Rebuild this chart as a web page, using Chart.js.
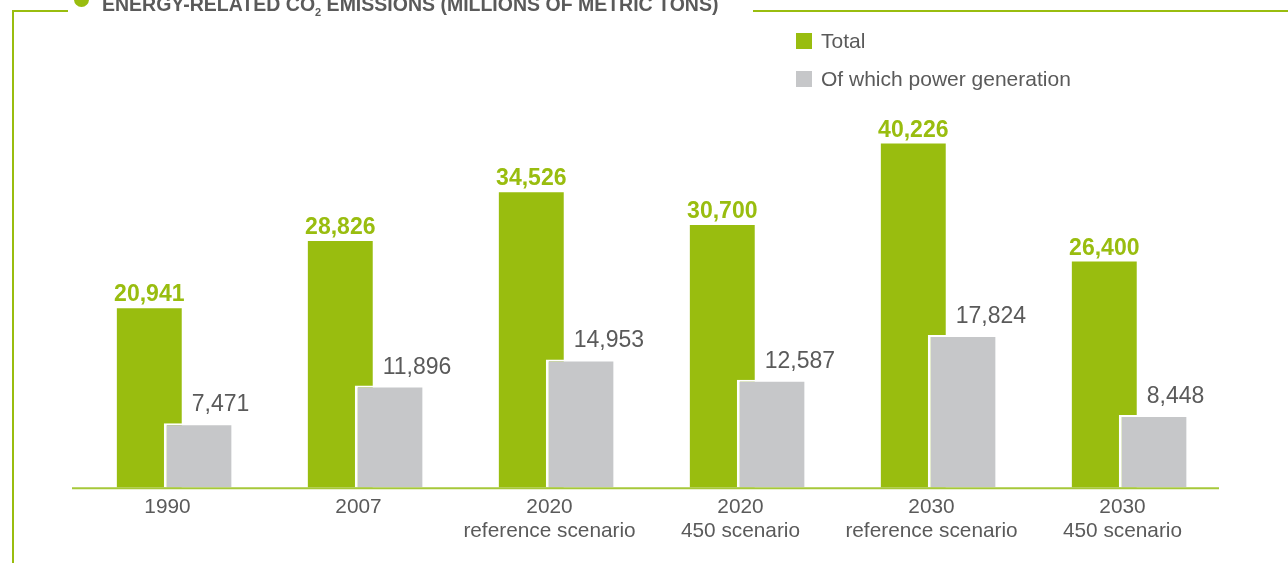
<!DOCTYPE html>
<html>
<head>
<meta charset="utf-8">
<title>Energy-related CO2 emissions</title>
<script src="https://cdn.jsdelivr.net/npm/chart.js@4/dist/chart.umd.min.js"></script>
<style>
    html, body { margin: 0; padding: 0; background: #fff; overflow: hidden; }
    #wrap { position: relative; width: 1288px; height: 563px; font-family: "Liberation Sans", Arial, sans-serif; }
    #wrap canvas { position: absolute; left: 0; top: 0; }
    .frame { position: absolute; background: #99bd0f; }
    .dot { position: absolute; left: 74px; top: -8px; width: 15px; height: 15px; border-radius: 50%; background: #99bd0f; }
    .title { position: absolute; left: 102px; top: -5px; font-size: 19.5px; line-height: 19.5px; font-weight: bold; color: #5a5a5a; white-space: nowrap; }
    .title sub { font-size: 11px; vertical-align: -5px; line-height: 0; }
    .legend-item { position: absolute; left: 796px; font-size: 21px; line-height: 21px; color: #5a5a5a; white-space: nowrap; }
    .legend-item span { display: inline-block; width: 16px; height: 16px; margin-right: 9px; vertical-align: -1px; }
</style>
</head>
<body>
<div id="wrap">
    <canvas id="co2Chart" width="1288" height="563"></canvas>
    <div class="frame" style="left:12px; top:10px; width:2px; height:553px;"></div>
    <div class="frame" style="left:12px; top:10px; width:56px; height:2px;"></div>
    <div class="frame" style="left:753px; top:10px; width:535px; height:2px;"></div>
    <div class="dot"></div>
    <div class="title">ENERGY-RELATED CO<sub>2</sub> EMISSIONS (MILLIONS OF METRIC TONS)</div>
    <div class="legend-item" style="top:30px;"><span style="background:#99bd0f;"></span>Total</div>
    <div class="legend-item" style="top:68px;"><span style="background:#c6c7c9;"></span>Of which power generation</div>
</div>

<script>
// Chart data
const categories = [
    ['1990'],
    ['2007'],
    ['2020', 'reference scenario'],
    ['2020', '450 scenario'],
    ['2030', 'reference scenario'],
    ['2030', '450 scenario']
];
const totalEmissions = [20941, 28826, 34526, 30700, 40226, 26400];
const powerGeneration = [7471, 11896, 14953, 12587, 17824, 8448];

const GREEN = '#99bd0f';
const GREY = '#c6c7c9';
const TEXT = '#5a5a5a';

// Draw datasets in index order so the grey bar overlaps the green one
const drawOrder = {
    id: 'drawOrder',
    beforeDatasetDraw: function(chart) {
        return !!chart.$manualDraw;
    },
    afterDatasetsDraw: function(chart) {
        chart.$manualDraw = true;
        chart.data.datasets.forEach(function(ds, i) {
            chart.getDatasetMeta(i).controller.draw();
        });
        chart.$manualDraw = false;
    }
};

// Baseline along the zero line
const baseline = {
    id: 'baseline',
    beforeDatasetsDraw: function(chart) {
        const ctx = chart.ctx;
        const y = chart.scales.y.getPixelForValue(0) + 1;
        ctx.save();
        ctx.strokeStyle = '#a6c83a';
        ctx.lineWidth = 2;
        ctx.beginPath();
        ctx.moveTo(chart.chartArea.left - 6, y);
        ctx.lineTo(chart.chartArea.right - 5, y);
        ctx.stroke();
        ctx.restore();
    }
};

// Value labels above the bars
const valueLabels = {
    id: 'valueLabels',
    afterDatasetsDraw: function(chart) {
        const ctx = chart.ctx;
        ctx.save();
        ctx.textBaseline = 'alphabetic';
        chart.getDatasetMeta(0).data.forEach(function(bar, i) {
            ctx.font = 'bold 23px "Liberation Sans", Arial, sans-serif';
            ctx.fillStyle = GREEN;
            ctx.textAlign = 'center';
            ctx.fillText(totalEmissions[i].toLocaleString('en-US'), bar.x, bar.y - 7);
        });
        chart.getDatasetMeta(1).data.forEach(function(bar, i) {
            ctx.font = '23px "Liberation Sans", Arial, sans-serif';
            ctx.fillStyle = TEXT;
            ctx.textAlign = 'left';
            ctx.fillText(powerGeneration[i].toLocaleString('en-US'), bar.x - 6, bar.y - 12);
        });
        ctx.restore();
    }
};

new Chart(document.getElementById('co2Chart'), {
    type: 'bar',
    data: {
        labels: categories,
        datasets: [{
            label: 'Total',
            data: totalEmissions,
            backgroundColor: GREEN,
            borderWidth: 0,
            barPercentage: 1.34
        }, {
            label: 'Of which power generation',
            data: powerGeneration,
            backgroundColor: GREY,
            borderColor: '#ffffff',
            borderWidth: { left: 3, top: 2, right: 0, bottom: 0 },
            borderSkipped: false,
            barPercentage: 1.40
        }]
    },
    options: {
        responsive: false,
        animation: false,
        devicePixelRatio: 1,
        categoryPercentage: 0.507,
        layout: {
            padding: { left: 78, right: 64, top: 60, bottom: 12 }
        },
        plugins: {
            legend: { display: false },
            tooltip: { enabled: false }
        },
        scales: {
            x: {
                grid: { display: false, drawTicks: false },
                border: { display: false },
                ticks: {
                    color: TEXT,
                    padding: 8,
                    labelOffset: -6,
                    font: { family: '"Liberation Sans", Arial, sans-serif', size: 20.8, lineHeight: 1.15 }
                }
            },
            y: {
                display: false,
                min: 0,
                max: 50000
            }
        }
    },
    plugins: [baseline, drawOrder, valueLabels]
});
</script>
</body>
</html>
